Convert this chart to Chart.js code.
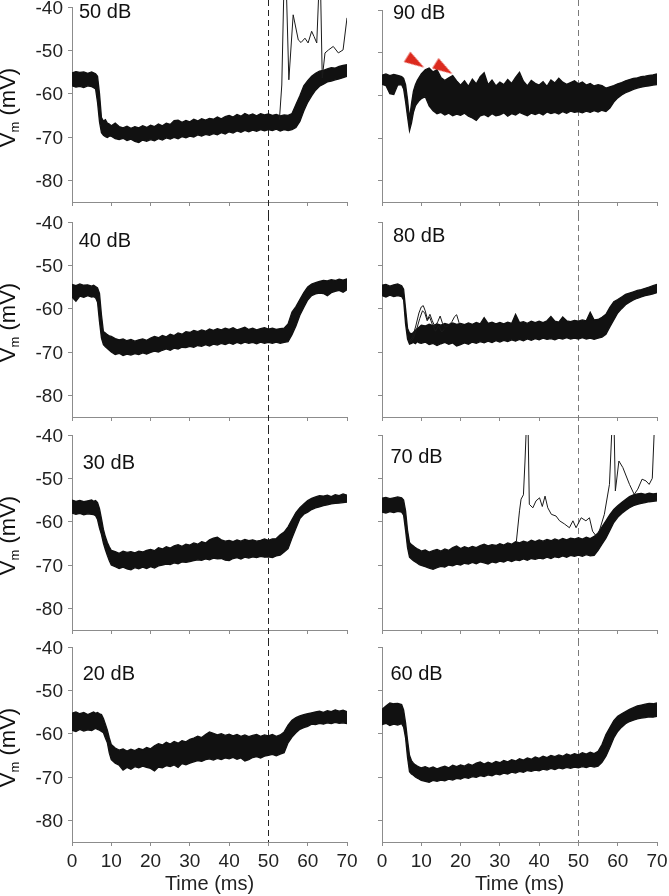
<!DOCTYPE html>
<html>
<head>
<meta charset="utf-8">
<script src="https://cdn.jsdelivr.net/npm/chart.js@4.4.1/dist/chart.umd.min.js"></script>
<style>
  html, body { margin: 0; padding: 0; background: #fff; }
  #fig { position: relative; width: 669px; height: 896px; overflow: hidden; }
  #fig canvas { position: absolute; }
</style>
</head>
<body>
<div id="fig"></div>
<script>
// **DATOS**
// time base shared by every panel (ms), finer around the onset
const T = [0, 1, 2, 3, 4, 5,
  5.5, 6, 6.5, 7, 7.5, 8, 8.5, 9, 9.5,
  10, 11, 12, 13, 14, 15, 16, 17, 18, 19,
  20, 21, 22, 23, 24, 25, 26, 27, 28, 29,
  30, 31, 32, 33, 34, 35, 36, 37, 38, 39,
  40, 41, 42, 43, 44, 45, 46, 47, 48, 49,
  50, 51, 52, 53, 54, 55, 56, 57, 58, 59,
  60, 61, 62, 63, 64, 65, 66, 67, 68, 69, 70];

const xTicks = [0, 10, 20, 30, 40, 50, 60, 70];
const yTicks = [-80, -70, -60, -50, -40];
const STIM_OFF = 50;

// upper / lower edge of the bundle of sweeps (mV)
const up50 = [-55.2, -54.9, -55.1, -55.0, -55.3, -55.0,
  -55.2, -55.4, -56.0, -60.0, -65.5, -66.3, -66.0, -66.8, -67.0,
  -67.4, -66.8, -67.6, -67.9, -67.5, -68.0, -67.6, -67.9, -67.4, -67.8,
  -67.3, -67.6, -67.0, -67.4, -66.8, -67.1, -66.2, -66.1, -66.6, -66.2,
  -66.5, -65.9, -66.3, -65.8, -66.1, -65.7, -65.9, -65.4, -65.8, -65.3,
  -65.0, -65.4, -64.8, -65.2, -64.6, -65.0, -64.7, -65.1, -64.6, -64.9,
  -64.7, -65.0, -64.8, -65.1, -64.9, -65.0, -64.6, -62.5, -60.5, -58.2,
  -57.0, -56.0, -55.3, -54.8, -54.6, -54.3, -54.0, -54.1, -53.7, -53.5, -53.3];
const lo50 = [-58.2, -58.5, -58.3, -58.6, -58.2, -58.4,
  -58.6, -58.9, -62.0, -66.5, -69.0, -69.6, -69.9, -70.1, -69.8,
  -69.8, -70.4, -70.6, -70.3, -70.8, -70.5, -71.0, -71.3, -70.7, -71.0,
  -70.6, -70.9, -70.4, -70.7, -70.2, -70.5, -70.1, -70.4, -69.9, -70.2,
  -69.8, -70.0, -69.5, -69.8, -69.4, -69.6, -69.2, -69.5, -69.0, -69.3,
  -68.8, -69.1, -68.6, -68.9, -68.5, -68.8, -68.4, -68.7, -68.3, -68.6,
  -68.3, -68.5, -68.2, -68.6, -68.3, -68.5, -68.3, -67.8, -66.4, -64.0,
  -62.0, -60.5, -59.2, -58.3, -57.8, -57.3, -57.1, -56.8, -56.6, -56.3, -56.0];

const up40 = [-54.4, -54.7, -54.3, -54.6, -54.5, -54.8,
  -54.6, -54.9, -55.2, -56.5, -61.5, -65.3, -65.6, -66.0, -66.3,
  -66.4, -66.9, -67.2, -67.0, -67.4, -67.1, -67.5, -67.2, -67.0, -67.3,
  -66.8, -66.4, -66.7, -66.2, -66.5, -65.9, -66.2, -65.6, -65.9, -65.3,
  -65.5, -65.0, -65.3, -64.9, -65.2, -64.7, -65.0, -64.6, -64.9, -64.5,
  -64.8, -64.4, -64.9, -64.6, -64.3, -64.8, -64.5, -64.9, -64.6, -64.4,
  -64.7, -64.5, -64.8, -64.6, -64.5, -63.5, -60.8, -59.5, -57.9, -56.3,
  -55.0, -54.3, -54.0, -53.7, -53.5, -53.6, -53.3, -53.5, -53.2, -53.4, -53.1];
const lo40 = [-57.3, -58.3, -57.1, -57.4, -57.0, -57.3,
  -57.2, -57.5, -58.5, -63.0, -66.8, -68.3, -68.8, -69.2, -69.6,
  -70.0, -70.6, -70.3, -70.8, -70.5, -70.7, -70.4, -70.6, -70.2, -70.5,
  -70.1, -69.8, -70.0, -69.6, -69.3, -69.6, -69.1, -69.3, -68.9, -69.0,
  -68.7, -68.9, -68.5, -68.7, -68.3, -68.6, -68.2, -68.4, -68.0, -68.3,
  -67.9, -68.2, -67.8, -68.1, -67.7, -68.0, -67.8, -68.1, -67.7, -68.0,
  -67.8, -68.0, -67.7, -68.0, -67.8, -67.6, -66.0, -64.0, -61.5, -59.7,
  -58.0, -57.0, -56.6, -56.4, -56.5, -57.0, -56.3, -56.0, -55.8, -56.2, -55.6];

const up30 = [-55.0, -55.3, -55.1, -55.4, -55.2, -55.0,
  -55.3, -55.1, -55.6, -57.0, -59.3, -61.8, -63.5, -64.8, -65.8,
  -66.6, -66.9, -67.3, -66.8, -67.1, -66.9, -67.2, -66.8, -67.0, -66.6,
  -66.4, -66.7, -66.0, -66.3, -65.8, -66.1, -65.6, -65.3, -65.7, -65.2,
  -65.4, -64.9, -65.2, -64.6, -64.9, -64.2, -63.8, -63.6, -64.2, -64.5,
  -64.3, -64.6, -64.2, -64.5, -64.1, -64.4, -64.2, -64.5, -64.3, -64.0,
  -64.3, -64.0, -63.9, -63.0, -62.4, -61.2, -59.5, -57.9, -56.8, -55.9,
  -55.1, -54.6, -54.3, -54.0, -54.1, -53.9, -54.2, -53.8, -54.0, -53.6, -53.9];
const lo30 = [-58.0, -58.3, -58.1, -58.4, -58.2, -58.3,
  -58.4, -58.6, -59.5, -61.5, -63.0, -65.0, -66.5, -67.8, -69.0,
  -70.0, -70.4, -70.8, -70.5, -70.9, -71.1, -70.6, -70.9, -70.5, -70.8,
  -70.4, -70.7, -70.2, -70.0, -69.8, -69.9, -69.5, -69.7, -69.3, -69.4,
  -69.2, -69.0, -68.8, -68.9, -68.6, -68.8, -68.4, -68.6, -68.5, -68.9,
  -69.0, -68.5, -68.3, -68.6, -68.2, -68.4, -68.1, -68.3, -68.0, -68.2,
  -68.1, -68.3, -67.9, -67.7, -67.0, -66.2, -63.8, -61.5, -59.3, -58.3,
  -57.8, -57.2, -56.8, -56.6, -56.3, -56.1, -55.9, -55.8, -55.7, -55.6, -55.5];

const up20 = [-55.3, -55.0, -55.4, -55.1, -55.6, -55.2,
  -55.0, -55.3, -55.1, -55.4, -55.6, -56.5, -57.8, -59.2, -61.0,
  -62.5, -63.3, -63.8, -63.5, -64.0, -63.6, -63.9, -63.4, -63.7, -63.2,
  -63.5, -62.8, -62.3, -62.6, -62.0, -62.4, -61.8, -62.2, -61.6, -61.9,
  -61.3, -61.0, -60.6, -60.9, -60.2, -59.6, -59.9, -60.3, -60.0, -60.4,
  -60.1, -60.5, -60.2, -60.6, -60.3, -60.7, -60.4, -60.2, -60.6, -60.3,
  -60.5, -60.2, -60.6, -60.3, -59.6, -58.0, -56.9, -56.3, -55.9, -55.6,
  -55.4, -55.2, -55.0, -54.8, -55.1, -54.7, -54.9, -54.5, -54.8, -54.6, -54.9];
const lo20 = [-59.2, -59.5, -59.0, -59.4, -59.1, -59.3,
  -59.0, -58.8, -59.0, -59.2, -59.5, -59.8, -61.0, -62.1, -64.5,
  -66.0, -66.8, -67.3, -68.4, -67.8, -68.2, -67.6, -67.9, -67.5, -67.8,
  -68.0, -68.6, -67.7, -67.9, -67.4, -67.6, -67.2, -67.8, -66.9, -67.2,
  -66.8, -66.5, -66.2, -66.4, -66.0, -65.8, -66.1, -65.7, -66.0, -65.6,
  -65.8, -65.5, -65.9, -65.6, -66.3, -66.0, -65.5, -65.3, -65.6, -65.2,
  -65.0, -64.8, -65.1, -64.7, -64.4, -62.1, -60.8, -59.8, -59.0, -58.6,
  -58.3, -57.8, -57.9, -57.6, -57.8, -57.5, -57.7, -57.4, -57.6, -57.5, -57.7];

const up90 = [-55.3, -55.0, -55.4, -55.1, -55.3, -55.6,
  -56.0, -57.5, -61.0, -65.5, -62.0, -59.0, -57.5, -56.5, -55.7,
  -55.0, -54.0, -53.6, -54.5, -54.0, -55.8, -56.5, -55.9, -55.4, -56.6,
  -57.6, -56.6, -57.9, -56.2, -57.3, -55.6, -54.7, -57.5, -56.4, -57.8,
  -56.9, -57.5, -56.3, -57.2, -55.8, -54.6, -56.7, -57.8, -56.5, -57.2,
  -57.6, -56.8, -57.9, -56.4, -57.1, -56.0, -56.9, -57.4, -57.0, -56.6,
  -57.3, -56.9, -57.6, -57.2, -57.8, -57.5, -57.7, -58.3, -58.0, -57.7,
  -57.3, -57.0, -56.6, -56.3, -56.0, -55.9, -55.6, -55.5, -55.3, -55.2, -55.0];
const lo90 = [-57.4, -57.7, -59.6, -59.8, -57.6, -57.5,
  -58.5, -61.5, -65.0, -68.3, -66.5, -64.0, -62.5, -61.8, -61.2,
  -60.8, -60.3, -62.5, -63.6, -64.3, -64.0, -64.6, -64.2, -64.8, -64.4,
  -64.7, -64.2, -64.9, -65.3, -65.9, -64.8, -64.5, -65.0, -64.3, -64.8,
  -64.6, -64.1, -64.9, -64.3, -64.6, -64.0, -64.4, -64.8, -64.2, -64.5,
  -64.1, -64.6, -63.9, -64.3, -64.0, -64.4, -63.8, -64.2, -63.7, -64.0,
  -63.8, -64.1, -63.7, -64.0, -63.6, -63.9, -63.5, -63.8, -63.0, -61.6,
  -60.6, -59.9, -59.4, -59.0, -58.6, -58.3, -58.1, -57.9, -57.8, -57.6, -57.5];

const up80 = [-54.6, -54.4, -54.8, -54.5, -54.3, -54.7,
  -55.5, -60.0, -64.5, -65.6, -65.8, -65.5, -65.0, -64.6, -64.2,
  -63.8, -64.0, -63.6, -63.9, -63.5, -63.8, -63.4, -63.7, -63.3, -63.6,
  -63.4, -63.7, -63.3, -63.6, -63.2, -63.5, -62.1, -63.4, -63.1, -63.5,
  -63.2, -63.5, -63.1, -63.4, -61.3, -63.2, -63.0, -63.4, -62.9, -63.2,
  -62.9, -63.2, -62.8, -61.8, -62.9, -63.1, -61.9, -62.8, -63.0, -62.7,
  -62.9, -62.6, -62.8, -60.8, -62.6, -62.5, -62.0, -61.3, -59.7, -58.4,
  -57.9, -57.3, -56.7, -56.4, -56.1, -55.8, -55.6, -55.3, -55.0, -54.7, -54.4];
const lo80 = [-57.0, -57.3, -56.9, -57.2, -57.0, -57.2,
  -58.0, -63.5, -67.0, -68.2, -68.0, -67.8, -68.1, -67.6, -67.9,
  -68.0, -67.7, -68.3, -68.0, -68.5, -68.1, -67.8, -68.2, -67.9, -68.6,
  -68.3, -67.9, -68.2, -67.7, -68.0, -67.6, -67.9, -67.5, -67.8, -67.4,
  -67.7, -67.3, -67.6, -67.2, -67.5, -67.1, -67.4, -67.0, -67.3, -66.9,
  -67.2, -66.8, -67.1, -66.9, -67.2, -66.8, -67.0, -66.7, -67.0, -66.8,
  -67.0, -66.7, -67.0, -66.8, -67.1, -66.8, -66.6, -65.9, -64.2, -62.6,
  -61.0, -60.0, -59.1, -58.5, -58.0, -57.6, -57.3, -57.0, -56.8, -56.6, -56.3];

const up70 = [-54.6, -54.4, -54.7, -54.5, -54.3, -54.5,
  -55.0, -57.5, -62.0, -64.8, -65.3, -65.6, -66.0, -66.3, -66.5,
  -66.8, -66.5, -67.0, -66.7, -66.4, -66.8, -66.3, -66.6, -66.0, -65.6,
  -66.2, -65.8, -66.1, -65.7, -66.0, -65.5, -65.2, -65.6, -65.3, -65.5,
  -65.1, -65.4, -64.9, -65.2, -64.6, -64.9, -64.5, -64.8, -64.3, -64.6,
  -64.2, -64.5, -64.1, -64.4, -64.0, -64.3, -63.9, -64.2, -63.8, -64.0,
  -63.7, -64.0, -63.6, -63.9, -63.4, -62.6, -61.2, -59.8, -58.4, -57.2,
  -56.3, -55.6, -54.9, -54.2, -53.8, -53.6, -53.5, -53.7, -53.4, -53.6, -53.5];
const lo70 = [-57.8, -58.0, -57.7, -57.9, -57.6, -57.8,
  -58.5, -62.0, -66.0, -68.2, -68.6, -69.0, -69.3, -69.6, -69.9,
  -70.1, -70.4, -70.7, -71.0, -70.6, -70.3, -70.5, -70.0, -70.2, -69.8,
  -70.0, -69.6, -69.8, -69.4, -69.7, -69.3, -69.5, -69.8, -69.3, -69.5,
  -69.1, -69.3, -68.9, -69.2, -68.8, -69.0, -68.6, -68.9, -68.5, -68.7,
  -68.4, -68.6, -68.2, -68.5, -68.1, -68.3, -67.9, -68.2, -67.8, -68.0,
  -67.7, -68.0, -67.6, -67.9, -67.8, -66.6, -65.2, -63.8, -62.0, -60.2,
  -59.0, -58.1, -57.4, -56.8, -56.3, -56.0, -55.8, -55.6, -55.4, -55.3, -55.2];

const up60 = [-54.4, -53.6, -52.9, -53.1, -53.0, -53.3,
  -54.5, -57.5, -61.5, -65.0, -66.2, -66.8, -67.2, -67.5, -67.7,
  -67.9, -67.6, -68.0, -67.7, -68.1, -67.8, -67.5, -67.9, -67.3, -67.6,
  -67.2, -67.5, -67.0, -67.3, -66.8, -66.5, -67.0, -66.6, -66.9, -66.4,
  -66.7, -66.2, -66.5, -66.0, -66.3, -65.8, -66.1, -65.6, -65.9, -65.4,
  -65.7, -65.2, -65.5, -65.0, -65.3, -64.9, -65.2, -64.7, -65.0, -64.6,
  -64.9, -64.4, -64.7, -64.3, -64.6, -64.1, -62.5, -60.2, -58.6, -57.0,
  -56.0, -55.4, -54.9, -54.4, -54.0, -53.6, -53.4, -53.2, -53.0, -53.1, -52.9];
const lo60 = [-57.9, -57.6, -58.1, -57.8, -58.0, -57.7,
  -58.5, -61.0, -65.5, -68.8, -69.3, -69.6, -70.0, -70.3, -70.5,
  -70.8, -71.0, -71.2, -70.8, -71.0, -70.7, -70.9, -70.5, -70.7, -70.3,
  -70.5, -70.1, -70.3, -69.9, -70.1, -69.7, -69.9, -69.5, -69.7, -69.3,
  -69.5, -69.1, -69.3, -68.9, -69.1, -68.7, -68.9, -68.5, -68.7, -68.4,
  -68.6, -68.2, -68.4, -68.0, -68.3, -67.9, -68.1, -67.8, -68.0, -67.7,
  -67.9, -67.6, -67.8, -67.5, -67.7, -67.5, -66.6, -65.2, -63.2, -61.0,
  -59.5, -58.5, -57.7, -57.2, -56.9, -56.6, -56.4, -56.3, -56.1, -56.2, -56.0];

// single sweeps that stand out of the bundle
const spike50T = [52.8, 53.4, 53.9, 54.6, 55.2, 56.3, 57.6, 58.3, 59.3, 60.1, 61.0,
  61.6, 62.3, 62.8, 63.3, 63.7, 64.4, 65.3, 66.5, 67.8, 69.0, 70.0];
const spike50V = [-66.0, -58.0, -37.0, -37.0, -56.8, -41.8, -47.6, -48.2, -47.2, -48.3, -45.6,
  -46.8, -48.3, -37.0, -37.0, -56.4, -50.6, -49.9, -49.1, -50.6, -49.9, -42.5];
const spike70T = [34.2, 35.0, 35.4, 36.0, 36.4, 36.7, 37.2, 37.5, 38.4, 39.2, 40.1, 40.8,
  41.5, 42.2, 43.1, 44.3, 45.2, 46.4, 47.7, 48.6, 49.4, 50.7, 51.9, 52.8, 53.6, 54.5,
  55.3, 56.6, 57.9, 58.5, 59.1, 59.4, 60.3, 61.3, 63.0, 64.2, 65.1, 66.2, 67.2, 68.0,
  68.8, 69.3, 69.8];
const spike70V = [-64.6, -57.5, -54.8, -53.8, -46.0, -39.0, -39.0, -56.0, -56.8, -55.2, -54.5, -56.5,
  -54.1, -56.8, -58.3, -58.7, -59.8, -60.5, -61.4, -59.8, -61.4, -59.1, -59.8, -59.1, -62.2, -63.3,
  -62.2, -58.3, -51.4, -39.0, -39.0, -52.9, -46.0, -47.5, -51.4, -53.7, -52.5, -50.2, -50.6, -51.4,
  -50.0, -39.0, -39.0];
const wig80aT = [7.0, 7.8, 8.6, 9.4, 10.0, 10.5, 11.0, 11.6, 12.2, 12.8, 13.5, 14.2, 14.8,
  15.4, 16.2, 17.0, 17.8, 18.5, 19.0, 19.6, 20.3];
const wig80aV = [-67.5, -66.5, -64.0, -61.0, -59.6, -59.3, -60.5, -62.5, -61.3, -62.8, -64.2, -63.0, -61.7,
  -63.4, -64.3, -63.8, -63.0, -61.8, -61.4, -63.2, -64.0];
const wig80bT = [7.2, 8.0, 8.8, 9.6, 10.3, 10.9, 11.5, 12.1, 12.8, 13.6, 14.4, 15.2, 16.0];
const wig80bV = [-67.8, -66.8, -64.8, -62.3, -60.5, -61.0, -62.8, -61.9, -63.6, -65.2, -64.0, -65.4, -64.6];

// red arrowheads in the 90 dB panel
const arrowT = [7.8, 15.0];
const arrowV = [-51.8, -53.3];

// **ESTILO**
const FONT = "'Liberation Sans', Arial, Helvetica, sans-serif";
const AXIS_GREY = '#8c8c8c';
const INK = '#111';
const ROW_TOP = [0, 215, 428, 640];

const panels = [
  { label: '50 dB', row: 0, col: 0, up: up50, lo: lo50, dx: 7, dy: 3.5,
    traces: [[spike50T, spike50V]], clip: { left: 0, top: 8, right: 0, bottom: 0 } },
  { label: '40 dB', row: 1, col: 0, up: up40, lo: lo40, dx: 6.7, dy: 17.5 },
  { label: '30 dB', row: 2, col: 0, up: up30, lo: lo30, dx: 10.7, dy: 26.7 },
  { label: '20 dB', row: 3, col: 0, up: up20, lo: lo20, dx: 10.7, dy: 26 },
  { label: '90 dB', row: 0, col: 1, up: up90, lo: lo90, dx: 11, dy: 1.7, arrows: true },
  { label: '80 dB', row: 1, col: 1, up: up80, lo: lo80, dx: 11, dy: 12.7,
    traces: [[wig80aT, wig80aV], [wig80bT, wig80bV]] },
  { label: '70 dB', row: 2, col: 1, up: up70, lo: lo70, dx: 8.4, dy: 21,
    traces: [[spike70T, spike70V]], clip: 0 },
  { label: '60 dB', row: 3, col: 1, up: up60, lo: lo60, dx: 8.4, dy: 26 },
];

function pts(xs, ys) {
	return xs.map((x, i) => ({ x, y: ys[i] }));
}

// arrowhead sprite, pointing right, centred on its centroid
const arrowHead = (() => {
	const c = document.createElement('canvas');
	c.width = 28; c.height = 28;
	const g = c.getContext('2d');
	g.fillStyle = '#dc2a1e';
	g.beginPath();
	g.moveTo(7.5, 8); g.lineTo(27.5, 14); g.lineTo(7.5, 20);
	g.closePath(); g.fill();
	return c;
})();

// dashed stimulus-offset line, runs up into the gap above each panel
const stimLine = {
	id: 'stimLine',
	beforeDatasetsDraw(chart, args, o) {
		const { ctx, chartArea, scales } = chart;
		const x = Math.round(scales.x.getPixelForValue(STIM_OFF)) + 0.5;
		ctx.save();
		ctx.strokeStyle = o.color;
		ctx.lineWidth = 1;
		ctx.setLineDash([6, 4]);
		ctx.beginPath();
		ctx.moveTo(x, 0);
		ctx.lineTo(x, o.toEdge ? chart.height : chartArea.bottom);
		ctx.stroke();
		ctx.restore();
	}
};

// level label and the V_m (mV) title with its subscript
const panelText = {
	id: 'panelText',
	afterDraw(chart, args, o) {
		const { ctx, chartArea } = chart;
		ctx.save();
		ctx.fillStyle = INK;
		ctx.font = `20px ${FONT}`;
		ctx.textBaseline = 'alphabetic';
		ctx.fillText(o.label, chartArea.left + o.dx, chartArea.top + o.dy + 7.2);
		if (o.yTitle) {
			const big = `22px ${FONT}`, small = `13px ${FONT}`;
			ctx.font = big;
			const wV = ctx.measureText('V').width;
			const wRest = ctx.measureText(' (mV)').width;
			ctx.font = small;
			const wm = ctx.measureText('m').width;
			ctx.translate(14.5, (chartArea.top + chartArea.bottom) / 2 + 3);
			ctx.rotate(-Math.PI / 2);
			let x = -(wV + wm + wRest) / 2;
			ctx.font = big; ctx.fillText('V', x, 0); x += wV;
			ctx.font = small; ctx.fillText('m', x, 4); x += wm;
			ctx.font = big; ctx.fillText(' (mV)', x, 0);
		}
		ctx.restore();
	}
};

function makePanel(p) {
	const bottomRow = p.row === 3;
	const leftCol = p.col === 0;
	const canvas = document.createElement('canvas');
	const w = leftCol ? 360 : 299;
	const h = bottomRow ? 256 : 215;
	canvas.width = w; canvas.height = h;
	canvas.style.width = w + 'px'; canvas.style.height = h + 'px';
	canvas.style.left = (leftCol ? 0 : 370) + 'px';
	canvas.style.top = ROW_TOP[p.row] + 'px';
	document.getElementById('fig').appendChild(canvas);

	const datasets = [];
	if (p.arrows) {
		datasets.push({
			data: pts(arrowT, arrowV), showLine: false,
			pointStyle: arrowHead, pointRadius: 10, pointRotation: 32, borderWidth: 0,
		});
	}
	(p.traces || []).forEach(([xs, ys]) => {
		datasets.push({
			data: pts(xs, ys), borderColor: '#1a1a1a', borderWidth: 1,
			pointRadius: 0, fill: false, clip: p.clip,
		});
	});
	datasets.push({
		data: pts(T, p.up), borderColor: INK, borderWidth: 1.3,
		backgroundColor: INK, fill: '+1', pointRadius: 0,
	});
	datasets.push({
		data: pts(T, p.lo), borderColor: INK, borderWidth: 1.3,
		pointRadius: 0, fill: false,
	});

	const tickFont = { family: FONT, size: 19 };
	new Chart(canvas, {
		type: 'line',
		data: { datasets },
		options: {
			responsive: false,
			animation: false,
			events: [],
			layout: { padding: { top: 7, right: leftCol ? 13 : 12, bottom: 0, left: 0 } },
			elements: { line: { tension: 0 } },
			plugins: {
				legend: { display: false },
				tooltip: { enabled: false },
				stimLine: { color: leftCol ? '#222' : '#7a7a7a', toEdge: !bottomRow },
				panelText: { label: p.label, dx: p.dx, dy: p.dy, yTitle: leftCol },
			},
			scales: {
				x: {
					type: 'linear', min: 0, max: 70,
					afterBuildTicks: s => { s.ticks = xTicks.map(v => ({ value: v })); },
					afterFit: s => {
						s.height = bottomRow ? 54 : 13;
						s.paddingLeft = 0; s.paddingRight = 0;
					},
					grid: { drawOnChartArea: false, drawTicks: true, tickLength: 4, color: AXIS_GREY },
					border: { color: AXIS_GREY, width: 1 },
					ticks: { display: bottomRow, font: tickFont, color: '#222', padding: 4, maxRotation: 0, autoSkip: false },
					title: { display: bottomRow, text: 'Time (ms)', font: { family: FONT, size: 20 }, color: '#222', padding: { top: 0, bottom: 0 } },
				},
				y: {
					type: 'linear', min: -85, max: -40,
					afterBuildTicks: s => { s.ticks = yTicks.map(v => ({ value: v })); },
					afterFit: s => {
						s.width = leftCol ? 72 : 12;
						s.paddingTop = 0; s.paddingBottom = 0;
					},
					grid: { drawOnChartArea: false, drawTicks: true, tickLength: 4, color: AXIS_GREY },
					border: { color: AXIS_GREY, width: 1 },
					ticks: { display: leftCol, font: tickFont, color: '#222', padding: 5, labelOffset: 1.5 },
				},
			},
		},
		plugins: [stimLine, panelText],
	});
}

function init() {
	panels.forEach(makePanel);
}

document.addEventListener('DOMContentLoaded', init);
</script>
</body>
</html>
